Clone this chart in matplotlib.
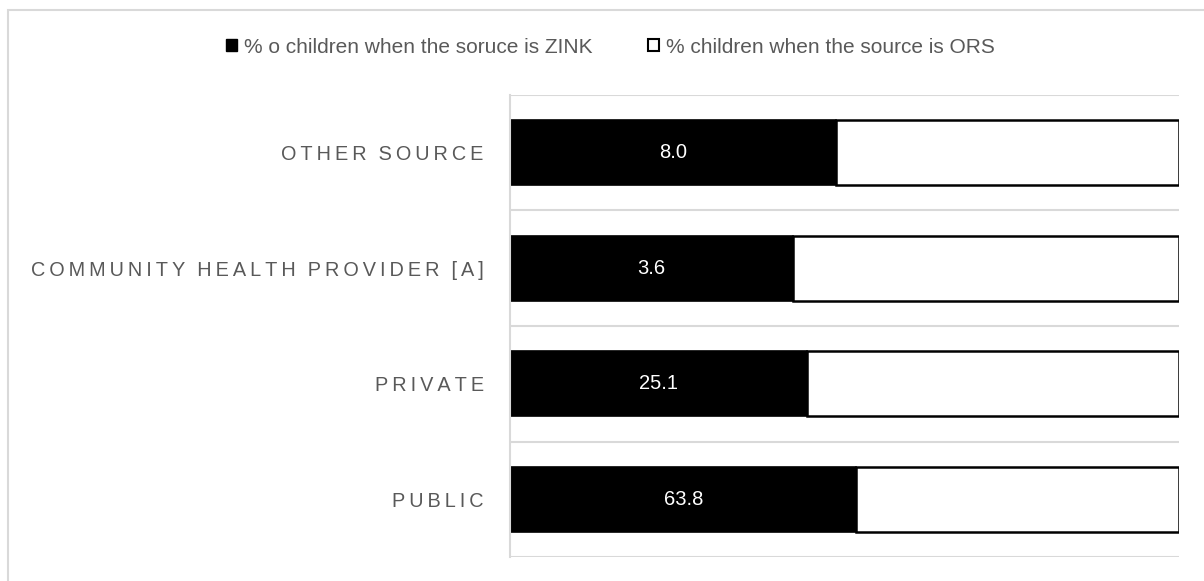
import numpy as np
import matplotlib.pyplot as plt
from matplotlib.patches import Patch, Rectangle

plt.rcParams['font.family'] = ['Liberation Sans', 'DejaVu Sans']

categories = ['PUBLIC', 'PRIVATE', 'COMMUNITY HEALTH PROVIDER [A]', 'OTHER SOURCE']
zink = [63.8, 25.1, 3.6, 8.0]
ors = [59.4, 31.4, 4.9, 8.4]
series_names = ['% o children when the soruce is ZINK', '% children when the source is ORS']

zink = np.array(zink)
ors = np.array(ors)
total = zink + ors
zink_share = zink / total * 100
ors_share = ors / total * 100

fig = plt.figure(figsize=(12.04, 5.81), dpi=100)
ax = fig.add_axes([0.4236, 0.0413, 0.5556, 0.7952])

# outer chart frame
fig.patches.append(Rectangle((8 / 1204, -0.1), 1.2, 1 - 10 / 581 + 0.1,
                             transform=fig.transFigure, fill=False,
                             edgecolor='#d9d9d9', lw=1.5, clip_on=False))

y = np.arange(len(categories))
h = 0.56
ax.barh(y, zink_share, height=h, color='black', edgecolor='black', lw=1.2)
ax.barh(y, ors_share, left=zink_share, height=h, color='white', edgecolor='black', lw=1.8)

for yi, w, v in zip(y, zink_share, zink):
    ax.text(w / 2, yi, f'{v:.1f}', color='white', ha='center', va='center', fontsize=14.5)

for b in np.arange(-0.5, len(categories), 1.0):
    ax.axhline(b, color='#d9d9d9', lw=1.5, zorder=0)

ax.set_xlim(0, 100)
ax.set_ylim(-0.5, len(categories) - 0.5)
for s in ['top', 'right', 'bottom']:
    ax.spines[s].set_visible(False)
ax.spines['left'].set_color('#d9d9d9')
ax.spines['left'].set_linewidth(1.5)
ax.set_xticks([])
ax.set_yticks(y)
# spread the letters of the category names
spaced = ['\u2009'.join(c if c != ' ' else '\u2009' for c in lab) for lab in categories]
ax.set_yticklabels(spaced, fontsize=14.3, color='#595959')
ax.tick_params(axis='y', length=0, pad=19)

handles = [Patch(facecolor='black', edgecolor='black'),
           Patch(facecolor='white', edgecolor='black', lw=1.5)]
fig.legend(handles, series_names, loc='center', bbox_to_anchor=(0.507, 0.919), ncol=2,
           frameon=False, fontsize=15, labelcolor='#595959', handlelength=0.53,
           handleheight=0.53, handletextpad=0.3, columnspacing=2.7,
           borderpad=0, borderaxespad=0)

fig.savefig('out.png', dpi=100)
